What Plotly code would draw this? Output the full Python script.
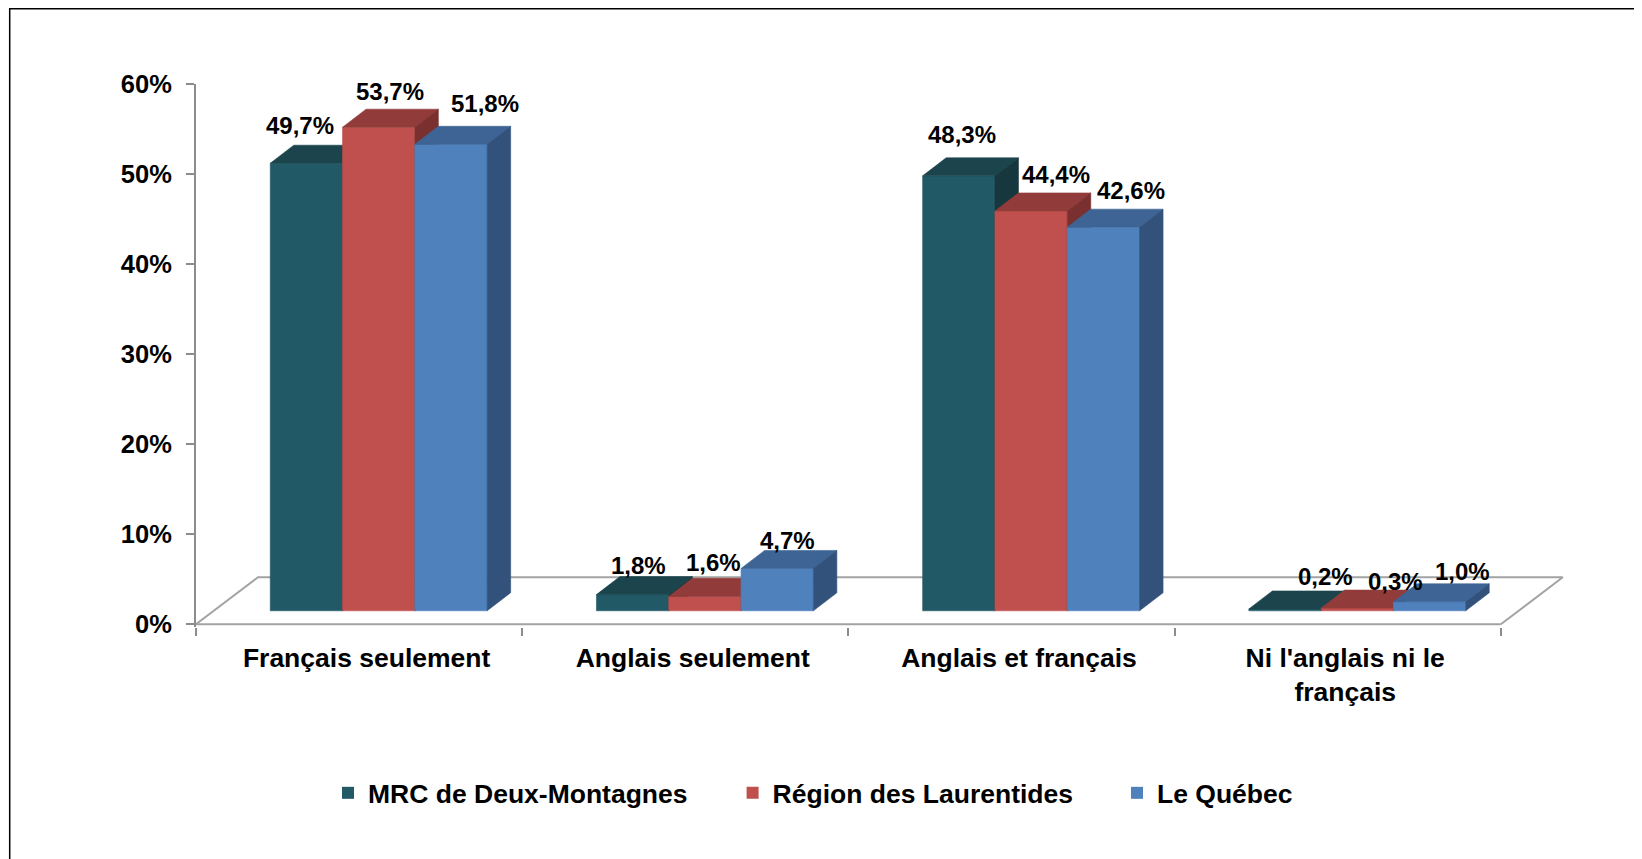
import plotly.graph_objects as go

# ---------------- data ----------------
categories = ["Français seulement", "Anglais seulement", "Anglais et français",
              "Ni l'anglais ni le<br>français"]
series_names = ["MRC de Deux-Montagnes", "Région des Laurentides", "Le Québec"]
mrc_values = [49.7, 1.8, 48.3, 0.2]
laurentides_values = [53.7, 1.6, 44.4, 0.3]
quebec_values = [51.8, 4.7, 42.6, 1.0]
y_tick_values = [0, 10, 20, 30, 40, 50, 60]
y_tick_labels = ["0%", "10%", "20%", "30%", "40%", "50%", "60%"]

series_values = [mrc_values, laurentides_values, quebec_values]

# ---------------- styles ----------------
front_colors = ["#215967", "#c0504d", "#4f81bd"]
top_colors = ["#1b444c", "#913c3a", "#3d6494"]
side_colors = ["#17373e", "#7a302e", "#32527b"]
# label offsets in pixels, relative to the centre of each bar's top face
label_xshift = [[-18, -6, -9, 29], [0, -3, 13, 26], [22, -1, 16, 21]]
label_yshift = [[20, 11, 23, 14], [18, 16, 18, 9], [23, 10, 19, 12]]
FONT = "Liberation Sans, Arial, sans-serif"

# ---------------- geometry (pixel based) ----------------
BODY = 8  # page margin around the figure div
W, H = 1642, 859
PX_L, PX_R, PX_T = 196 - BODY, 1580 - BODY, 84 - BODY
Y_MIN, Y_MAX = -0.3, 60
PX_PER_PCT = 9.0
PLOT_H = (Y_MAX - Y_MIN) * PX_PER_PCT
PX_B = PX_T + PLOT_H
X_MIN = -0.5
PX_PER_CAT = 326.2
X_MAX = X_MIN + (PX_R - PX_L) / PX_PER_CAT

FLOOR_DX = 62 / PX_PER_CAT
FLOOR_DY = 47 / PX_PER_PCT
BAR_W = 72.3 / PX_PER_CAT
BAR_DX = 23.5 / PX_PER_CAT
BAR_DY = 18 / PX_PER_PCT
BAR_BASE = 13.5 / PX_PER_PCT
BAR_SHIFT = 19.6 / PX_PER_CAT
CAT_LABEL_SHIFT = 7.5 / PX_PER_CAT


def paper_x(page_px):
    return (page_px - BODY - PX_L) / (PX_R - PX_L)


def paper_y(page_py):
    return (PX_B - (page_py - BODY)) / PLOT_H


fig = go.Figure()

# floor (drawn first, behind the bars)
n = len(categories)
fx0, fx1 = X_MIN, X_MIN + n
floor_x = [fx0, fx1, None, fx0, fx0 + FLOOR_DX, fx1 + FLOOR_DX, fx1, None]
floor_y = [0, 0, None, 0, FLOOR_DY, FLOOR_DY, 0, None]
fig.add_trace(go.Scatter(x=floor_x, y=floor_y, mode="lines",
                         line=dict(color="#a3a3a3", width=2),
                         hoverinfo="skip", showlegend=False))

annotations = []
for k, (name, vals) in enumerate(zip(series_names, series_values)):
    fx, fy, tx, ty, sx, sy = [], [], [], [], [], []
    for i, v in enumerate(vals):
        xl = i + BAR_SHIFT + (k - 1.5) * BAR_W
        xr = xl + BAR_W
        b = BAR_BASE
        t = BAR_BASE + v
        fx += [xl, xr, xr, xl, xl, None]
        fy += [b, b, t, t, b, None]
        tx += [xl, xr, xr + BAR_DX, xl + BAR_DX, xl, None]
        ty += [t, t, t + BAR_DY, t + BAR_DY, t, None]
        sx += [xr, xr + BAR_DX, xr + BAR_DX, xr, xr, None]
        sy += [b, b + BAR_DY, t + BAR_DY, t, b, None]
        annotations.append(dict(
            x=(xl + xr) / 2 + BAR_DX / 2, y=t + BAR_DY, xref="x", yref="y",
            text=f"{v:.1f}".replace(".", ",") + "%", showarrow=False,
            xanchor="center", yanchor="middle",
            xshift=label_xshift[k][i], yshift=label_yshift[k][i],
            font=dict(family=FONT, size=24, color="#000000", weight="bold")))
    for xs, ys, col in ((fx, fy, front_colors[k]), (tx, ty, top_colors[k]),
                        (sx, sy, side_colors[k])):
        fig.add_trace(go.Scatter(x=xs, y=ys, mode="lines", fill="toself",
                                 fillcolor=col, line=dict(width=0.6, color=col),
                                 hoverinfo="skip", showlegend=False))

# legend entries (one legend per series so that spacing matches)
legend_text_px = [368, 772.6, 1157]
legend_ids = ["legend", "legend2", "legend3"]
for k, name in enumerate(series_names):
    fig.add_trace(go.Bar(x=[None], y=[None], name=name, legend=legend_ids[k],
                         marker=dict(color=front_colors[k], line=dict(width=0)),
                         showlegend=True))

legend_common = dict(orientation="h", yanchor="middle", xanchor="left",
                     bgcolor="rgba(0,0,0,0)", borderwidth=0,
                     font=dict(family=FONT, size=26.5, color="#000000", weight="bold"))
layout_legends = {}
for k, lid in enumerate(legend_ids):
    layout_legends[lid] = dict(legend_common, x=paper_x(legend_text_px[k] - 40),
                               y=paper_y(792.7))

fig.update_layout(
    width=W, height=H,
    margin=dict(l=PX_L, r=W - PX_R, t=PX_T, b=H - PX_B, pad=0),
    paper_bgcolor="#ffffff", plot_bgcolor="#ffffff",
    showlegend=True,
    xaxis=dict(type="linear", range=[X_MIN, X_MAX], showgrid=False, zeroline=False,
               showline=False, tickmode="array",
               tickvals=[j + CAT_LABEL_SHIFT for j in range(n)],
               ticktext=categories, ticks="", ticklabelstandoff=12,
               tickfont=dict(family=FONT, size=26.5, color="#000000", weight="bold"),
               minor=dict(tickmode="array", tickvals=[X_MIN + j for j in range(n + 1)],
                          ticks="outside", ticklen=8, tickwidth=2,
                          tickcolor="#8c8c8c", showgrid=False),
               fixedrange=True),
    yaxis=dict(range=[Y_MIN, Y_MAX], tickvals=y_tick_values, ticktext=y_tick_labels,
               showgrid=False, zeroline=False, showline=True, linecolor="#8c8c8c",
               linewidth=2, ticks="outside", ticklen=8, tickwidth=2,
               tickcolor="#8c8c8c", ticklabelstandoff=9,
               tickfont=dict(family=FONT, size=25.5, color="#000000", weight="bold")),
    annotations=annotations,
    shapes=[dict(type="rect", xref="paper", yref="paper",
                 x0=paper_x(9.7), x1=paper_x(1641), y0=paper_y(900),
                 y1=paper_y(BODY + 0.75),
                 line=dict(color="#000000", width=1.5), fillcolor="rgba(0,0,0,0)",
                 layer="below")],
    **layout_legends,
)

fig.write_html("out.html")
